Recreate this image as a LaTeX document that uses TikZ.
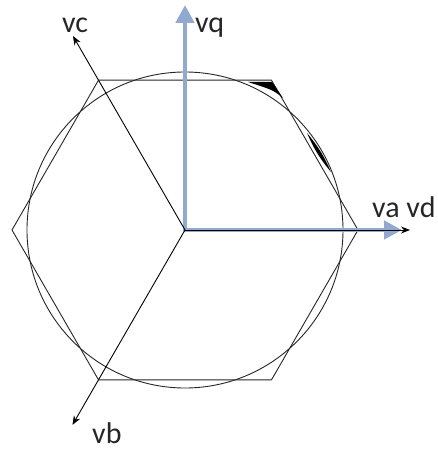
\documentclass[tikz,border=0pt]{standalone}
\usepackage{fontspec}
\setmainfont{Carlito}
\usetikzlibrary{arrows.meta}
\definecolor{axisblue}{RGB}{143,170,210}
\tikzset{
  lbl/.style={anchor=base west, inner sep=0pt, font=\fontsize{30}{36}\selectfont, text=black!85},
  phase/.style={line width=0.9pt, -{Stealth[length=9pt,width=7pt]}},
  dq/.style={axisblue, line width=4.5pt, -{Triangle[length=18pt,width=18pt]}}
}
\begin{document}
\begin{tikzpicture}[x=1pt,y=1pt, line join=round, line cap=round]
        \useasboundingbox (-185,-219) rectangle (252,230);
        \coordinate (O) at (0,0);
        \coordinate (va) at (0:225);
        \coordinate (vb) at (240:225);
        \coordinate (vc) at (120:224);
        \coordinate (vq) at (90:225);
        \coordinate (vd) at (0:217);
        % hexagon and circle
        \draw[black!85, line width=0.9pt] (0:173) -- (60:173) -- (120:173) -- (180:173) -- (240:173) -- (300:173) -- cycle;
        \draw[black!85, line width=0.9pt] (O) circle (158);
        \fill[black] (63,148) -- (87,148) -- (98,132) .. controls (88,140) .. (63,148);
        \fill[black] (122,97) to[bend left=8] (146,58) to[bend left=8] (122,97);
        % axes
        \draw[dq] (O) -- (vq);
        \draw[dq] (O) -- (vd);
        \draw[phase] (O) -- (va);
        \draw[phase] (O) -- (vb);
        \draw[phase] (O) -- (vc);
        \node[lbl] (vcText) at (-123,197) {vc};
        \node[lbl] (vqText) at (10,197) {vq};
        \node[lbl] (vavdText) at (187,12) {va vd};
        \node[lbl] (vbText) at (-93,-213) {vb};
\end{tikzpicture}
\end{document}
